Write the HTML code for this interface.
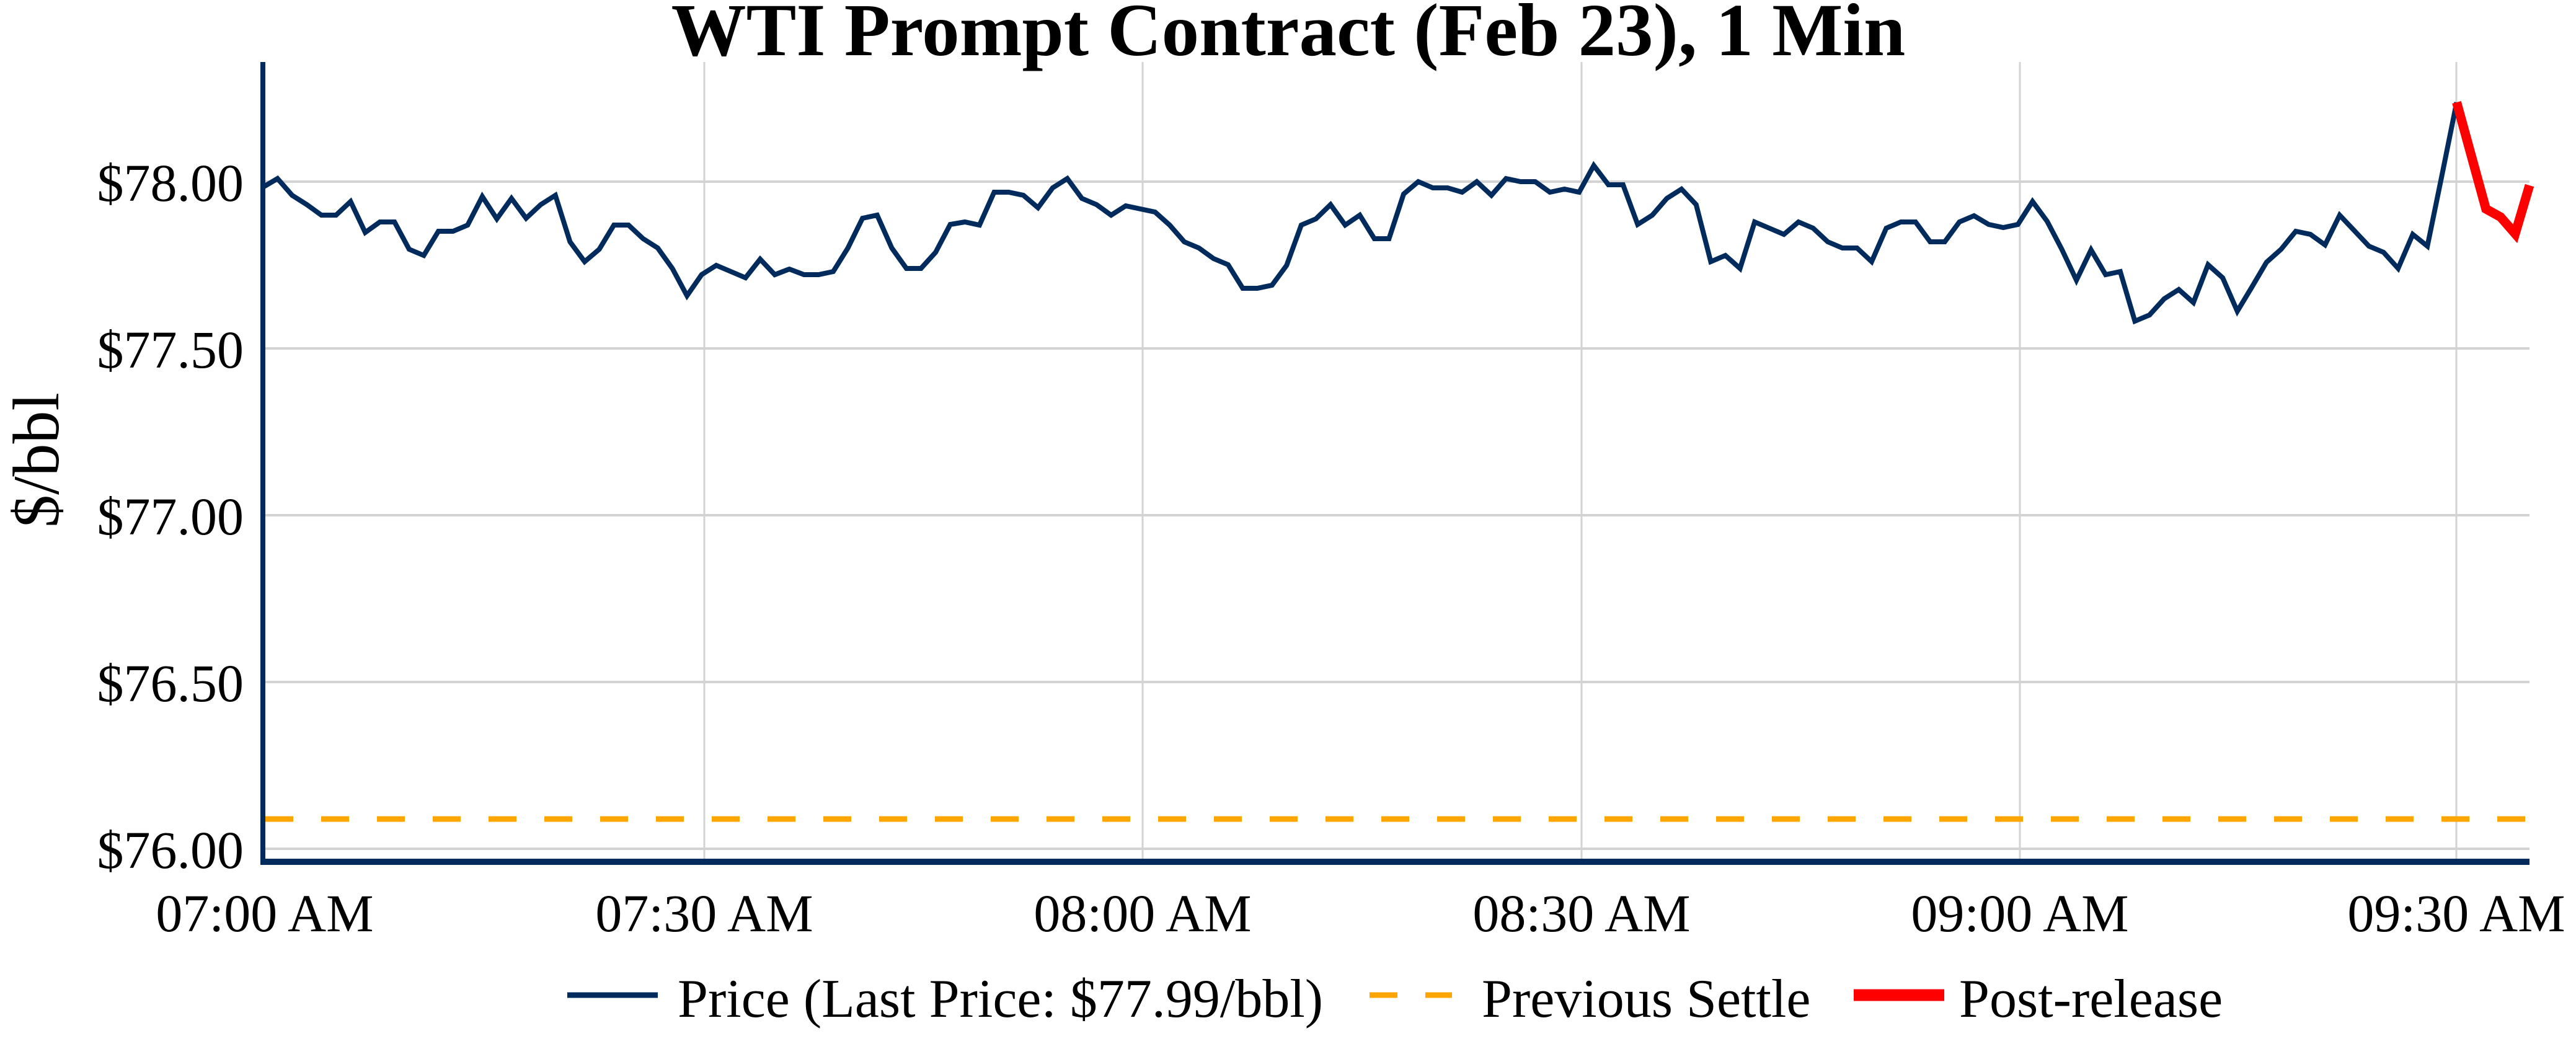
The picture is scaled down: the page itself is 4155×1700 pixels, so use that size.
<!DOCTYPE html>
<html><head><meta charset="utf-8"><style>html,body{margin:0;padding:0;background:#fff}svg{display:block}</style></head>
<body>
<svg width="4155" height="1700" viewBox="0 0 4155 1700" xmlns="http://www.w3.org/2000/svg" font-family="'Liberation Serif', serif">
<rect width="4155" height="1700" fill="#fff"/>
<g stroke="#d3d3d3" stroke-width="4">
<line x1="424" y1="293" x2="4080" y2="293"/>
<line x1="424" y1="562" x2="4080" y2="562"/>
<line x1="424" y1="831" x2="4080" y2="831"/>
<line x1="424" y1="1100" x2="4080" y2="1100"/>
<line x1="424" y1="1369" x2="4080" y2="1369"/>
</g>
<g stroke="#d3d3d3" stroke-width="3">
<line x1="1136" y1="100" x2="1136" y2="1390"/>
<line x1="1843" y1="100" x2="1843" y2="1390"/>
<line x1="2551" y1="100" x2="2551" y2="1390"/>
<line x1="3258" y1="100" x2="3258" y2="1390"/>
<line x1="3962" y1="100" x2="3962" y2="1390"/>
</g>
<line x1="428" y1="1321" x2="4080" y2="1321" stroke="#ffa500" stroke-width="9" stroke-dasharray="45,45"/>
<polyline fill="none" stroke="#002b5c" stroke-width="8" stroke-linejoin="miter" id="p" points=""/>
<polyline fill="none" stroke="#ff0000" stroke-width="15" id="r" points=""/>
<line x1="424" y1="100" x2="424" y2="1394" stroke="#002b5c" stroke-width="8"/>
<line x1="420" y1="1390" x2="4080" y2="1390" stroke="#002b5c" stroke-width="10"/>
<g font-size="86" fill="#000" text-anchor="end">
<text x="393" y="324">$78.00</text>
<text x="393" y="593">$77.50</text>
<text x="393" y="862">$77.00</text>
<text x="393" y="1131">$76.50</text>
<text x="393" y="1400">$76.00</text>
</g>
<g font-size="86" fill="#000" text-anchor="middle">
<text x="427" y="1502">07:00 AM</text>
<text x="1136" y="1502">07:30 AM</text>
<text x="1843" y="1502">08:00 AM</text>
<text x="2551" y="1502">08:30 AM</text>
<text x="3258" y="1502">09:00 AM</text>
<text x="3962" y="1502">09:30 AM</text>
</g>
<text x="0" y="0" font-size="106" text-anchor="middle" transform="translate(94,742) rotate(-90)">$/bbl</text>
<text x="2078" y="89" font-size="121" font-weight="bold" text-anchor="middle">WTI Prompt Contract (Feb 23), 1 Min</text>
<line x1="915" y1="1605" x2="1061" y2="1605" stroke="#002b5c" stroke-width="9"/>
<text x="1093" y="1640" font-size="88">Price (Last Price: $77.99/bbl)</text>
<line x1="2209" y1="1605" x2="2342" y2="1605" stroke="#ffa500" stroke-width="9" stroke-dasharray="45,45"/>
<text x="2390" y="1640" font-size="88">Previous Settle</text>
<line x1="2990" y1="1605" x2="3136" y2="1605" stroke="#ff0000" stroke-width="19"/>
<text x="3160" y="1640" font-size="88">Post-release</text>
<script>
var ys=[302,288,315,330,347,347,325,375,358,358,402,412,373,373,363,317,353,320,352,330,315,390,422,402,363,363,385,400,433,477,443,428,438,448,418,443,434,443,443,438,400,352,347,400,433,433,407,362,358,363,310,310,315,335,303,288,320,330,347,332,337,342,363,390,400,417,427,465,465,460,428,363,353,330,363,347,385,385,313,293,303,303,310,293,315,288,293,293,310,305,310,267,298,298,362,347,320,305,330,422,412,433,358,368,378,358,368,390,400,400,422,368,358,358,390,390,358,348,362,367,362,325,357,402,452,403,443,438,518,508,482,467,488,427,448,502,463,423,402,373,378,395,347,372,397,407,433,378,397,282,165];
var pts=ys.map(function(y,i){return (424+i*23.59).toFixed(1)+','+y;}).join(' ');
document.getElementById('p').setAttribute('points',pts);
var ry=[165,251,337,350,377,299];
var rp=ry.map(function(y,i){return Math.min(4080,424+(150+i)*23.59).toFixed(1)+','+y;}).join(' ');
document.getElementById('r').setAttribute('points',rp);
</script>
</svg>
</body></html>
